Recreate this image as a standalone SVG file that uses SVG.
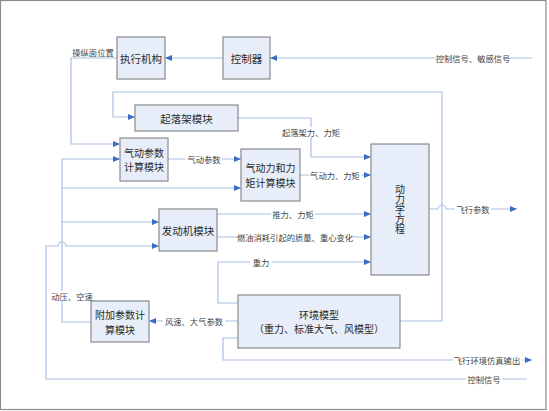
<svg xmlns="http://www.w3.org/2000/svg" width="549" height="411" viewBox="0 0 549 411">
<style>
.box{fill:#e7eef9;stroke:#8a8a8a;stroke-width:1.2}
.bt{font-family:"Noto Sans CJK SC","Noto Sans CJK JP",sans-serif;font-size:10.5px;fill:#2a2a2a;text-anchor:middle;dominant-baseline:central}
.bt2{font-size:10px}
.ln{fill:none;stroke:#aac1e6;stroke-width:1.2}
.lb{font-family:"Noto Sans CJK SC","Noto Sans CJK JP",sans-serif;font-size:8.3px;fill:#444;text-anchor:middle;dominant-baseline:central}
.bg{fill:#fff}
</style>
<defs>
<marker id="arr" markerUnits="userSpaceOnUse" markerWidth="7" markerHeight="6" refX="7" refY="3" orient="auto">
<path d="M0,0 L7,3 L0,6 z" fill="#3a6cc4"/>
</marker>
</defs>
<rect x="0.5" y="0.5" width="545.5" height="409" fill="#fff" stroke="#8c8c8c" stroke-width="1.2"/>
<g id="connectors">
<path class="ln" d="M532,58 H270" marker-end="url(#arr)"/>
<path class="ln" d="M223,58 H165" marker-end="url(#arr)"/>
<path class="ln" d="M117,58 H71 V144 H120" marker-end="url(#arr)"/>
<path class="ln" d="M400,321 H442 V92 H113 V117 H135" marker-end="url(#arr)"/>
<path class="ln" d="M238,118 H311 V157 H371" marker-end="url(#arr)"/>
<path class="ln" d="M168,159 H241" marker-end="url(#arr)"/>
<path class="ln" d="M300,175 H371" marker-end="url(#arr)"/>
<path class="ln" d="M217,214 H371" marker-end="url(#arr)"/>
<path class="ln" d="M217,237 H371" marker-end="url(#arr)"/>
<path class="ln" d="M238,303 H218 V262 H371" marker-end="url(#arr)"/>
<path class="ln" d="M429,209 H438 A4,4 0 0 1 446,209 H517" marker-end="url(#arr)"/>
<path class="ln" d="M238,321 H149" marker-end="url(#arr)"/>
<path class="ln" d="M91,322 H62 V159 H120" marker-end="url(#arr)"/>
<path class="ln" d="M62,188 H241" marker-end="url(#arr)"/>
<path class="ln" d="M62,222 H159" marker-end="url(#arr)"/>
<path class="ln" d="M238,338 H223 V360 H532" marker-end="url(#arr)"/>
<path class="ln" d="M527,379 H46 V246 H58 A4,4 0 0 1 66,246 H159" marker-end="url(#arr)"/>
<g id="labels">
<rect class="bg" x="436" y="53" width="74" height="10"/><text class="lb" x="473" y="58">控制信号、敏感信号</text>
<text class="lb" x="93" y="52">操纵面位置</text>
<rect class="bg" x="281" y="127" width="60" height="10"/><text class="lb" x="311" y="132">起落架力、力矩</text>
<rect class="bg" x="186" y="154" width="36" height="10"/><text class="lb" x="204" y="159">气动参数</text>
<rect class="bg" x="309" y="170" width="52" height="10"/><text class="lb" x="335" y="175">气动力、力矩</text>
<rect class="bg" x="271" y="209" width="44" height="10"/><text class="lb" x="293" y="214">推力、力矩</text>
<rect class="bg" x="239" y="232" width="112" height="10"/><text class="lb" x="295" y="237">燃油消耗引起的质量、重心变化</text>
<rect class="bg" x="250" y="257" width="22" height="10"/><text class="lb" x="261" y="262">重力</text>
<rect class="bg" x="455" y="204" width="36" height="10"/><text class="lb" x="473" y="209">飞行参数</text>
<rect class="bg" x="163" y="316" width="62" height="10"/><text class="lb" x="194" y="321">风速、大气参数</text>
<rect class="bg" x="50" y="291" width="44" height="10"/><text class="lb" x="72" y="296">动压、空速</text>
<rect class="bg" x="453" y="355" width="69" height="10"/><text class="lb" x="487" y="360">飞行环境仿真输出</text>
<rect class="bg" x="466" y="374" width="36" height="10"/><text class="lb" x="484" y="379">控制信号</text>
</g>
</g>
<g id="actuator"><rect class="box" x="117" y="37" width="48" height="42"/><text class="bt" x="141" y="58">执行机构</text></g>
<g id="controller"><rect class="box" x="223" y="37" width="47" height="42"/><text class="bt" x="246.5" y="58">控制器</text></g>
<g id="landing-gear"><rect class="box" x="135" y="105" width="103" height="26"/><text class="bt" x="186.5" y="118">起落架模块</text></g>
<g id="aero-param"><rect class="box" x="120" y="138" width="48" height="43"/><text class="bt bt2" x="144" y="152">气动参数</text><text class="bt bt2" x="144" y="166.5">计算模块</text></g>
<g id="aero-force"><rect class="box" x="241" y="149" width="59" height="52"/><text class="bt bt2" x="270.5" y="167.5">气动力和力</text><text class="bt bt2" x="270.5" y="182">矩计算模块</text></g>
<g id="engine"><rect class="box" x="159" y="209" width="58" height="42"/><text class="bt" x="188" y="230">发动机模块</text></g>
<g id="dynamics"><rect class="box" x="371" y="144" width="58" height="131"/>
<text class="bt" x="400" y="209.5" style="writing-mode:vertical-rl;font-size:10px">动力学方程</text></g>
<g id="additional-param"><rect class="box" x="91" y="301" width="58" height="41"/><text class="bt bt2" x="120" y="314.5">附加参数计</text><text class="bt bt2" x="120" y="329">算模块</text></g>
<g id="environment"><rect class="box" x="238" y="295" width="162" height="53"/><text class="bt bt2" x="319" y="314">环境模型</text><text class="bt bt2" x="319" y="328.5">（重力、标准大气、风模型）</text></g>
</svg>
